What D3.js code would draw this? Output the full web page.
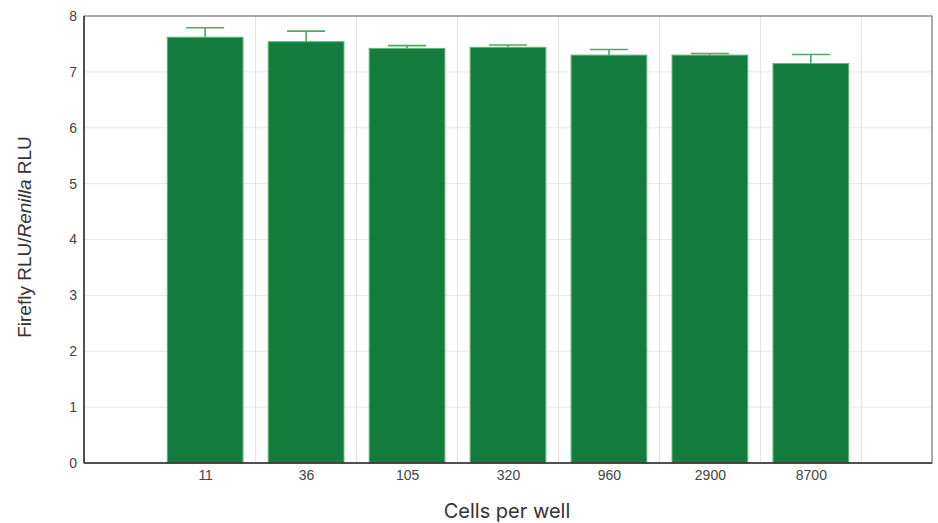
<!DOCTYPE html>
<html>
<head>
<meta charset="utf-8">
<script src="https://cdn.jsdelivr.net/npm/d3@7"></script>
<style>
  body { margin: 0; background: #fff; }
</style>
</head>
<body>
<div id="chart"></div>
<script>
// Data
const cells = ["11", "36", "105", "320", "960", "2900", "8700"];
const ratio = [7.62, 7.54, 7.42, 7.44, 7.30, 7.30, 7.15];
const errUp = [0.17, 0.19, 0.05, 0.04, 0.10, 0.03, 0.16];
const yTicks = [0, 1, 2, 3, 4, 5, 6, 7, 8];

const W = 938, H = 523;
const margin = { top: 16, right: 6, bottom: 60, left: 84 };
const width = W - margin.left - margin.right;
const height = H - margin.top - margin.bottom;

const svg = d3.select("#chart")
    .append("svg")
    .attr("width", W)
    .attr("height", H);

const g = svg.append("g")
    .attr("transform", `translate(${margin.left}, ${margin.top})`);

// Category positions as index, with 1.2 slots of padding on each side
const xScale = d3.scaleLinear()
    .domain([-1.2, cells.length - 1 + 1.2])
    .range([0, width]);
const slot = xScale(1) - xScale(0);
const barW = slot * 0.75;

const yScale = d3.scaleLinear()
    .domain([0, 8])
    .range([height, 0]);

// Horizontal grid lines
g.selectAll(".hgrid")
    .data(yTicks.slice(1, -1))
    .enter()
    .append("line")
    .attr("x1", 0).attr("x2", width)
    .attr("y1", d => yScale(d)).attr("y2", d => yScale(d))
    .attr("stroke", "#e8e8e8");

// Vertical grid lines to the right of each category
g.selectAll(".vgrid")
    .data(cells)
    .enter()
    .append("line")
    .attr("x1", (d, i) => xScale(i + 0.5)).attr("x2", (d, i) => xScale(i + 0.5))
    .attr("y1", 0).attr("y2", height)
    .attr("stroke", "#e0e0e0");

// Error bars (upper only)
const err = g.selectAll(".err")
    .data(cells)
    .enter()
    .append("g")
    .attr("stroke", "#4ea862")
    .attr("stroke-width", 1.6);
err.append("line")
    .attr("x1", (d, i) => xScale(i)).attr("x2", (d, i) => xScale(i))
    .attr("y1", (d, i) => yScale(ratio[i])).attr("y2", (d, i) => yScale(ratio[i] + errUp[i]));
err.append("line")
    .attr("x1", (d, i) => xScale(i) - 19).attr("x2", (d, i) => xScale(i) + 19)
    .attr("y1", (d, i) => yScale(ratio[i] + errUp[i])).attr("y2", (d, i) => yScale(ratio[i] + errUp[i]));

// Bars
g.selectAll(".bar")
    .data(cells)
    .enter()
    .append("rect")
    .attr("x", (d, i) => xScale(i) - barW / 2)
    .attr("width", barW)
    .attr("y", (d, i) => yScale(ratio[i]))
    .attr("height", (d, i) => height - yScale(ratio[i]))
    .attr("fill", "#137c3e")
    .attr("stroke", "#62b873")
    .attr("stroke-width", 1);

// Plot frame
g.append("rect")
    .attr("width", width).attr("height", height)
    .attr("fill", "none")
    .attr("stroke", "#555")
    .attr("stroke-width", 1);
g.append("line")
    .attr("x1", 0).attr("x2", 0).attr("y1", 0).attr("y2", height)
    .attr("stroke", "#333").attr("stroke-width", 1.5);
g.append("line")
    .attr("x1", 0).attr("x2", width).attr("y1", height).attr("y2", height)
    .attr("stroke", "#333").attr("stroke-width", 1.5);

// Y tick labels
const yAxis = d3.axisLeft(yScale).tickValues(yTicks).tickSize(0).tickPadding(7);
g.append("g")
    .call(yAxis)
    .call(a => a.select(".domain").remove())
    .selectAll("text")
    .attr("font-family", "Liberation Sans, Arial, sans-serif")
    .attr("font-size", 14)
    .attr("fill", "#444");

// X tick labels
const xAxis = d3.axisBottom(xScale)
    .tickValues(d3.range(cells.length))
    .tickFormat(i => cells[i])
    .tickSize(0)
    .tickPadding(7);
g.append("g")
    .attr("transform", `translate(0, ${height})`)
    .call(xAxis)
    .call(a => a.select(".domain").remove())
    .selectAll("text")
    .attr("font-family", "Liberation Sans, Arial, sans-serif")
    .attr("font-size", 14)
    .attr("fill", "#444");

// Axis titles
svg.append("text")
    .attr("x", 507)
    .attr("y", 518)
    .attr("text-anchor", "middle")
    .attr("font-family", "Inter, Open Sans, sans-serif")
    .attr("font-size", 20)
    .attr("fill", "#333")
    .text("Cells per well");

const yTitle = svg.append("text")
    .attr("transform", `translate(31, 237) rotate(-90)`)
    .attr("text-anchor", "middle")
    .attr("font-family", "Liberation Sans, Arial, sans-serif")
    .attr("font-size", 19)
    .attr("fill", "#333");
yTitle.append("tspan").text("Firefly RLU/");
yTitle.append("tspan").attr("font-style", "italic").text("Renilla");
yTitle.append("tspan").text(" RLU");
</script>
</body>
</html>
